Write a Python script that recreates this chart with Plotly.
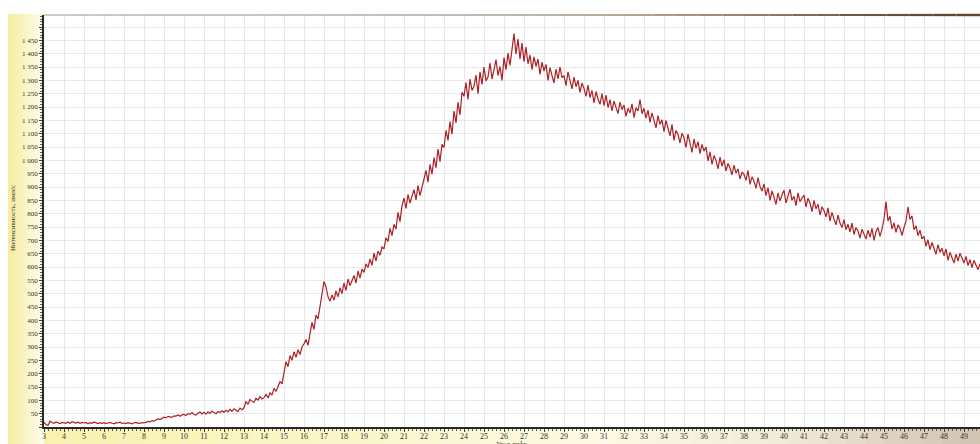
import plotly.graph_objects as go

# Diffraction scan: 2-theta from 3.0 deg in 0.1 deg steps, intensity in counts/s
two_theta_start = 3.0
two_theta_step = 0.1

intensity_03_08 = [
    18, 9, 6, 22, 17, 14, 19, 15, 13, 17,
    16, 14, 19, 13, 20, 16, 15, 18, 14, 17,
    15, 17, 12, 16, 14, 19, 15, 13, 16, 14,
    16, 13, 15, 17, 14, 12, 16, 15, 18, 14,
    15, 13, 16, 14, 12, 16, 17, 14, 15, 17,
]
intensity_08_13 = [
    18, 17, 21, 19, 24, 22, 27, 30, 28, 33,
    37, 34, 40, 38, 36, 42, 41, 45, 40, 46,
    47, 43, 50, 48, 54, 47, 45, 52, 56, 49,
    55, 48, 57, 51, 60, 54, 50, 58, 54, 61,
    55, 63, 57, 66, 59, 68, 62, 58, 71, 65,
]
intensity_13_18 = [
    72, 96, 85, 103, 97, 92, 108, 101, 114, 105,
    110, 122, 109, 128, 120, 145, 133, 150, 170, 162,
    212, 245, 226, 268, 250, 282, 261, 290, 272, 300,
    312, 328, 306, 350, 392, 366, 420, 405, 450, 498,
    546, 525, 488, 472, 495, 476, 510, 488, 522, 500,
]
intensity_18_23 = [
    540, 512, 555, 530, 548, 568, 540, 585, 558, 592,
    580, 612, 598, 630, 606, 652, 622, 660, 644, 675,
    668, 710, 695, 745, 718, 760, 742, 805, 770, 830,
    858, 820, 872, 840, 866, 890, 852, 905, 868, 895,
    930, 962, 918, 985, 948, 1010, 972, 1042, 995, 1060,
]
intensity_23_28 = [
    1048, 1112, 1075, 1145, 1098, 1185, 1140, 1218, 1170, 1255,
    1240, 1292, 1228, 1305, 1262, 1278, 1320, 1250, 1332, 1285,
    1350, 1298, 1312, 1365, 1305, 1340, 1378, 1318, 1352, 1300,
    1385, 1340, 1402, 1356, 1418, 1475, 1398, 1455, 1380, 1440,
    1370, 1425, 1362, 1395, 1340, 1388, 1352, 1380, 1322, 1368,
]
intensity_28_33 = [
    1335, 1360, 1300, 1348, 1318, 1290, 1342, 1305, 1350, 1310,
    1318, 1280, 1332, 1295, 1268, 1312, 1276, 1300, 1255, 1290,
    1270, 1240, 1282, 1235, 1262, 1215, 1258, 1230, 1210, 1250,
    1205, 1245, 1198, 1228, 1185, 1222, 1200, 1175, 1218, 1190,
    1208, 1165, 1195, 1178, 1212, 1160, 1198, 1185, 1228, 1175,
]
intensity_33_38 = [
    1195, 1158, 1188, 1142, 1178, 1150, 1122, 1168, 1135, 1152,
    1108, 1150, 1118, 1092, 1135, 1075, 1112, 1098, 1065, 1102,
    1085, 1048, 1098, 1062, 1030, 1080, 1045, 1070, 1025, 1060,
    1035, 1050, 998, 1032, 985, 1018, 1000, 968, 1012, 978,
    1002, 960, 988, 972, 945, 982, 952, 968, 930, 955,
]
intensity_38_43 = [
    948, 925, 962, 910, 938, 922, 895, 935, 902, 885,
    912, 868, 898, 850, 885, 862, 835, 878, 848, 870,
    888, 840, 872, 892, 850, 865, 830, 878, 845, 860,
    870, 825, 858, 840, 808, 850, 818, 835, 795, 826,
    812, 788, 822, 772, 805, 780, 758, 795, 765, 748,
]
intensity_43_50 = [
    778, 740, 760, 732, 765, 722, 748, 735, 708, 742,
    725, 705, 738, 712, 745, 700, 732, 748, 715, 742,
    780, 845, 772, 790, 742, 765, 730, 758, 745, 718,
    748, 772, 826, 778, 792, 740, 755, 718, 738, 705,
    715, 678, 702, 665, 692, 672, 648, 684, 655, 670,
    642, 668, 625, 655, 638, 615, 648, 622, 652, 630,
    615, 640, 605, 628, 598, 625, 608, 590, 612,
]

intensity = (intensity_03_08 + intensity_08_13 + intensity_13_18 + intensity_18_23
             + intensity_23_28 + intensity_28_33 + intensity_33_38 + intensity_38_43
             + intensity_43_50)
two_theta = [round(two_theta_start + i * two_theta_step, 2) for i in range(len(intensity))]

x_ticks = list(range(3, 50))
y_ticks = list(range(0, 1501, 50))
y_ticktext = ["" if v in (0, 1500) else f"{v:,}".replace(",", " ") for v in y_ticks]

W, H = 980, 444
L, T, B = 44, 15, 17
PW, PH = W - L, H - T - B


def px(x):
    return (x - L) / PW


def py(y):
    return (H - B - y) / PH


def mix(c1, c2, f):
    return "rgb({},{},{})".format(*[round(a + (b - a) * f) for a, b in zip(c1, c2)])


fig = go.Figure()
fig.add_trace(go.Scatter(
    x=two_theta, y=intensity, mode="lines",
    line=dict(color="rgb(170,34,38)", width=1.2),
    hoverinfo="skip", showlegend=False,
))

shapes = []
# left panel strip: yellow fading toward the axis
left_cols = [(246, 238, 160), (254, 252, 235)]
n = 12
for i in range(n):
    x0 = 8 + i * (L - 8) / n
    x1 = 8 + (i + 1) * (L - 8) / n
    c = mix(left_cols[0], left_cols[-1], i / (n - 1))
    shapes.append(dict(type="rect", xref="paper", yref="paper",
                       x0=px(x0), x1=px(x1 + 0.5), y0=py(H), y1=py(14),
                       fillcolor=c, line=dict(width=0), layer="below"))
# bottom strip: yellow on the left, pale in the middle, tan on the right
stops = [(0, (248, 240, 170)), (330, (251, 246, 200)), (600, (253, 250, 228)),
         (800, (240, 232, 215)), (900, (222, 208, 190)), (980, (210, 195, 178))]
seg = 49
for i in range(seg):
    x0 = L + i * PW / seg
    x1 = L + (i + 1) * PW / seg
    xm = (x0 + x1) / 2
    for (a, ca), (b, cb) in zip(stops[:-1], stops[1:]):
        if a <= xm <= b:
            c = mix(ca, cb, (xm - a) / (b - a))
            break
    shapes.append(dict(type="rect", xref="paper", yref="paper",
                       x0=px(x0), x1=px(x1 + 0.5), y0=py(H), y1=py(H - B + 1),
                       fillcolor=c, line=dict(width=0), layer="below"))
# top frame line: grey on the left turning brown on the right
top_stops = [(0, (150, 150, 150)), (600, (150, 130, 110)), (980, (95, 65, 40))]
tseg = 40
for i in range(tseg):
    x0 = L + i * PW / tseg
    x1 = L + (i + 1) * PW / tseg
    xm = (x0 + x1) / 2
    for (a, ca), (b, cb) in zip(top_stops[:-1], top_stops[1:]):
        if a <= xm <= b:
            c = mix(ca, cb, (xm - a) / (b - a))
            break
    w = 1 + 1.5 * (xm / W) ** 3
    shapes.append(dict(type="line", xref="paper", yref="paper",
                       x0=px(x0), x1=px(x1), y0=1, y1=1,
                       line=dict(color=c, width=w), layer="above"))

fig.update_layout(
    width=W, height=H,
    margin=dict(l=L, r=0, t=T, b=B),
    paper_bgcolor="white", plot_bgcolor="white",
    separators=", ",
    shapes=shapes,
    xaxis=dict(
        range=[3, 49.8], tickmode="array", tickvals=x_ticks,
        showgrid=True, gridcolor="rgb(232,232,232)", gridwidth=1,
        showline=True, linecolor="rgb(40,40,40)", linewidth=2,
        ticks="outside", ticklen=3, tickcolor="rgb(60,60,60)",
        ticklabelstandoff=-3,
        minor=dict(dtick=0.2, ticks="outside", ticklen=2, tickcolor="rgb(90,90,90)"),
        tickfont=dict(family="Liberation Serif", size=8, color="rgb(50,50,50)"),
        zeroline=False,
    ),
    yaxis=dict(
        range=[0, 1545], tickmode="array", tickvals=y_ticks, ticktext=y_ticktext,
        showgrid=True, gridcolor="rgb(232,232,232)", gridwidth=1,
        showline=True, linecolor="rgb(40,40,40)", linewidth=1.5,
        ticks="outside", ticklen=3, tickcolor="rgb(60,60,60)",
        minor=dict(dtick=10, ticks="outside", ticklen=2, tickcolor="rgb(90,90,90)"),
        tickfont=dict(family="Liberation Serif", size=7, color="rgb(50,50,50)"),
        zeroline=False,
    ),
    annotations=[
        dict(text="Интенсивность, имп/с", textangle=-90, showarrow=False,
             xref="paper", yref="paper", x=px(13), y=py(218),
             xanchor="center", yanchor="middle",
             font=dict(family="Liberation Serif", size=7, color="rgb(50,50,50)")),
        dict(text="Угол дифр.", showarrow=False,
             xref="paper", yref="paper", x=px(512), y=py(444),
             xanchor="center", yanchor="middle",
             font=dict(family="Liberation Serif", size=7, color="rgb(50,50,50)")),
    ],
)

fig.write_html("out.html")
